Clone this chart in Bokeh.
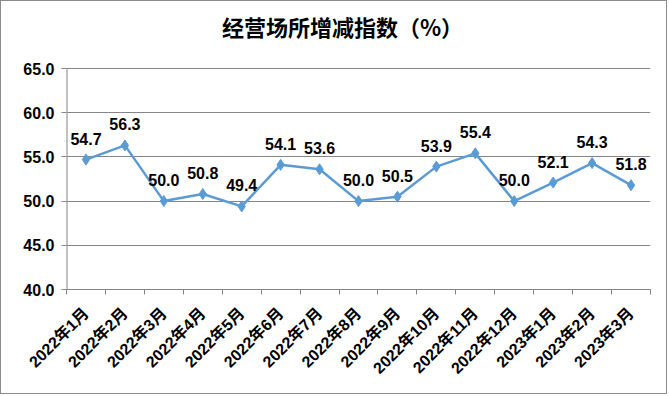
from bokeh.plotting import figure
from bokeh.models import ColumnDataSource, FixedTicker, NumeralTickFormatter, Range1d, Label
from bokeh.core.properties import value
from bokeh.embed import file_html
from bokeh.resources import INLINE
import math

title_text = "经营场所增减指数（%）"
months = ["2022年1月", "2022年2月", "2022年3月", "2022年4月", "2022年5月", "2022年6月",
          "2022年7月", "2022年8月", "2022年9月", "2022年10月", "2022年11月", "2022年12月",
          "2023年1月", "2023年2月", "2023年3月"]
index_values = [54.7, 56.3, 50.0, 50.8, 49.4, 54.1, 53.6, 50.0, 50.5, 53.9, 55.4, 50.0, 52.1, 54.3, 51.8]
y_ticks = [40, 45, 50, 55, 60, 65]

n = len(months)
xs = [i + 0.5 for i in range(n)]
src = ColumnDataSource(dict(x=xs, y=index_values, lbl=[f"{v:.1f}" for v in index_values]))

# layout (pixels); the 1px border sits outside the canvas
W, H = 667, 394
BL, BR, BT, BB = 65, 18, 0, 106
PLOT_TOP = 67          # canvas y of the top gridline
frame_h = H - BT - BB
plot_h = frame_h - (PLOT_TOP - BT)
y_lo, y_hi = y_ticks[0], y_ticks[-1]
y_end = y_lo + (y_hi - y_lo) * frame_h / plot_h   # leave room above for the title

p = figure(width=W, height=H, output_backend="svg", toolbar_location=None,
           x_range=Range1d(0, n), y_range=Range1d(y_lo, y_end),
           min_border_left=BL, min_border_right=BR, min_border_top=BT, min_border_bottom=BB)
p.styles = {"border": "1px solid #8c8c8c"}
p.outline_line_color = None
p.background_fill_color = "white"
p.border_fill_color = "white"

title = Label(x=276, y=frame_h - 24, x_units="screen", y_units="screen",
              text=title_text, text_align="center", text_baseline="middle",
              text_font="Noto Sans CJK SC", text_font_size="22px", text_font_style="bold",
              text_color="black")
p.add_layout(title)

# y axis line only over the value range
p.segment(x0=[0], y0=[y_lo], x1=[0], y1=[y_hi], line_color="#868686", line_width=2)

p.line("x", "y", source=src, line_color="#5B9BD5", line_width=2.5)
p.scatter("x", "y", source=src, marker="diamond", size=11, fill_color="#5B9BD5", line_color="#5B9BD5")
p.text("x", "y", text="lbl", source=src, text_align="center", text_baseline="middle",
       y_offset=-21, text_font=value("Liberation Sans"), text_font_size="16px",
       text_font_style="bold", text_color="black")

# y axis
p.yaxis.ticker = FixedTicker(ticks=y_ticks)
p.yaxis.formatter = NumeralTickFormatter(format="0.0")
p.yaxis.major_label_text_font = "Liberation Sans"
p.yaxis.major_label_text_font_size = "16px"
p.yaxis.major_label_text_font_style = "bold"
p.yaxis.major_label_text_color = "black"
p.yaxis.axis_line_color = None
p.yaxis.major_tick_line_color = "#868686"
p.yaxis.major_tick_out = 5
p.yaxis.major_tick_in = 0
p.yaxis.minor_tick_line_color = None
p.yaxis.major_label_standoff = 7

# x axis: labels at centers, ticks at boundaries
p.xaxis.ticker = FixedTicker(ticks=xs, minor_ticks=list(range(n + 1)))
p.xaxis.major_label_overrides = {x: m for x, m in zip(xs, months)}
p.xaxis.major_label_orientation = math.pi / 4
p.xaxis.major_label_text_font = "Liberation Sans, Noto Sans CJK SC"
p.xaxis.major_label_text_font_size = "16px"
p.xaxis.major_label_text_font_style = "bold"
p.xaxis.major_label_text_color = "black"
p.xaxis.axis_line_color = "#868686"
p.xaxis.major_tick_line_color = None
p.xaxis.minor_tick_line_color = "#868686"
p.xaxis.minor_tick_out = 5
p.xaxis.minor_tick_in = 0
p.xaxis.major_label_standoff = 15

p.xgrid.grid_line_color = None
p.ygrid.ticker = FixedTicker(ticks=y_ticks)
p.ygrid.grid_line_color = "#868686"
p.ygrid.grid_line_width = 1

open("out.html", "w").write(file_html(p, INLINE))
